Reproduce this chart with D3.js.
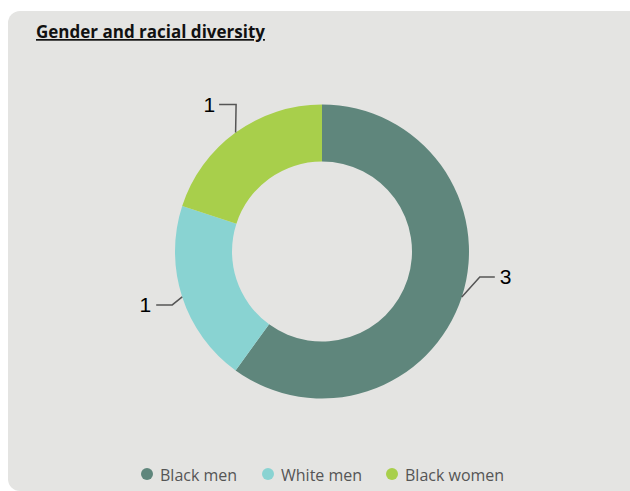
<!DOCTYPE html>
<html><head><meta charset="utf-8">
<script src="https://cdn.jsdelivr.net/npm/d3@7"></script>
<style>body{margin:0;background:#fff;}svg{display:block;}</style>
</head><body>
<svg id="c" width="630" height="491"></svg>
<script>
const title = "Gender and racial diversity";
const categories = ["Black men", "White men", "Black women"];
const values = [3, 1, 1];
const colors = ["#5f867c", "#89d3d2", "#a8cf4b"];

const svg = d3.select("#c");
svg.append("rect").attr("x", 8).attr("y", 11).attr("width", 640).attr("height", 480)
  .attr("rx", 12).attr("fill", "#e4e4e2");

svg.append("text").attr("x", 36).attr("y", 38).text(title)
  .attr("font-family", "'Open Sans', sans-serif").attr("font-weight", "bold")
  .attr("font-size", 17).attr("fill", "#111").attr("text-decoration", "underline");

const cx = 322, cy = 251.5, R = 147, r = 90;
const pie = d3.pie().sort(null).value(d => d)(values);
const arc = d3.arc().innerRadius(r).outerRadius(R);
const g = svg.append("g").attr("transform", `translate(${cx},${cy})`);
g.selectAll("path").data(pie).join("path").attr("d", arc).attr("fill", (d, i) => colors[i]);

// data labels with connectors
pie.forEach((d, i) => {
  const a = (d.startAngle + d.endAngle) / 2;
  const px = Math.sin(a) * R, py = -Math.cos(a) * R;
  const right = Math.sin(a) > 0;
  let pts, tx, ty;
  if (Math.abs(Math.sin(a)) > 0.8) {
    const bx = px + (right ? 18 : -10), by = py + (right ? -20 : 8);
    const ex = bx + (right ? 15 : -16);
    pts = [[px, py], [bx, by], [ex, by]];
    tx = ex + (right ? 5 : -5); ty = by;
  } else {
    const bx = px + 0.5, by = py - 28;
    const ex = bx - 17;
    pts = [[px, py], [bx, by], [ex, by]];
    tx = ex - 4; ty = by;
  }
  g.append("path").attr("d", d3.line()(pts)).attr("fill", "none")
    .attr("stroke", "#555").attr("stroke-width", 1.5);
  g.append("text").attr("x", tx).attr("y", ty).attr("dy", "0.35em")
    .attr("text-anchor", right ? "start" : "end")
    .attr("font-family", "'Liberation Sans', Arial, sans-serif").attr("font-size", 21)
    .attr("fill", "#000").text(d.data);
});

// legend
const legX = [147, 268, 392];
const lg = svg.append("g");
categories.forEach((c, i) => {
  lg.append("circle").attr("cx", legX[i]).attr("cy", 474).attr("r", 6).attr("fill", colors[i]);
  lg.append("text").attr("x", legX[i] + 13).attr("y", 481).text(c)
    .attr("font-family", "'Open Sans', sans-serif").attr("font-size", 16)
    .attr("fill", "#555");
});
</script>
</body></html>
